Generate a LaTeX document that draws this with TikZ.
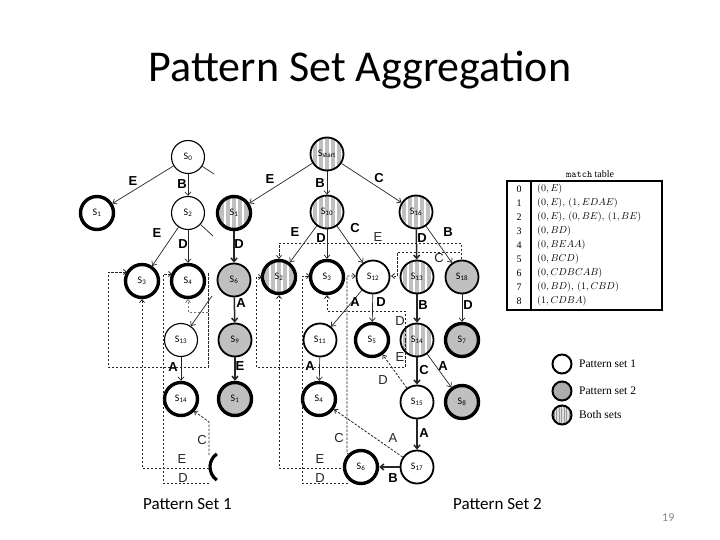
\documentclass[tikz,border=0pt]{standalone}
\usepackage{fontspec}
\setmainfont{Carlito}
\newfontfamily\lab{Liberation Sans}
\newfontfamily\tms{Liberation Serif}
\usetikzlibrary{arrows.meta}
\definecolor{ngray}{RGB}{192,192,192}
\definecolor{pgnum}{RGB}{137,137,137}
\begin{document}
\begin{tikzpicture}[x=1pt,y=-1pt,
 nd/.style={circle, draw, inner sep=0pt, minimum size=33pt, font=\fontsize{10}{12}\selectfont},
 thn/.style={line width=1.1pt},
 mdm/.style={line width=1.8pt},
 thk/.style={line width=3.4pt},
 wh/.style={fill=white},
 gy/.style={fill=ngray},
 st/.style={fill=ngray, path picture={\foreach \d in {-15,-9,-3,3,9,15} \draw[white,line width=1.4pt] ([xshift=\d pt]path picture bounding box.south) -- ([xshift=\d pt]path picture bounding box.north);}},
 lst/.style={fill=gray!25, path picture={\foreach \d in {-8,-5.5,-3,-0.5,2,4.5,7} \draw[gray!80,line width=0.5pt] ([xshift=\d pt]path picture bounding box.south) -- ([xshift=\d pt]path picture bounding box.north);}},
 ed/.style={draw=black!85, line width=0.7pt, -{Straight Barb[length=3.5pt,width=6pt]}},
 edk/.style={ed, line width=1.5pt},
 dsh/.style={draw=black!85, line width=0.8pt, dash pattern=on 2.5pt off 1.5pt},
 dar/.style={dsh, -{Straight Barb[length=3pt,width=5pt]}},
 lb/.style={font=\lab\bfseries\fontsize{13}{15}\selectfont, inner sep=0pt},
 dl/.style={font=\lab\fontsize{13}{15}\selectfont, inner sep=0pt, text=black!85},
 tb/.style={font=\fontsize{10}{12}\selectfont, inner sep=0pt, anchor=west},
 lgc/.style={circle, draw, line width=2pt, minimum size=19pt, inner sep=0pt},
 lgt/.style={anchor=west, font=\tms\fontsize{11.5}{13}\selectfont, inner sep=0pt}
]
\useasboundingbox (0,0) rectangle (720,540);
\fill[white] (0,0) rectangle (720,540);

% title and captions
\node[anchor=base, font=\fontsize{44}{50}\selectfont, inner sep=0pt] (title) at (360,82) {Pattern Set Aggregation};
\node[anchor=base west, font=\fontsize{17}{20}\selectfont, inner sep=0pt] (cap1) at (143,509) {Pattern Set 1};
\node[anchor=base west, font=\fontsize{17}{20}\selectfont, inner sep=0pt] (cap2) at (453,509) {Pattern Set 2};
\node[anchor=base west, font=\fontsize{12}{14}\selectfont, inner sep=0pt, text=pgnum] (pg) at (662,521) {19};

% ---------- left tree (pattern set 1) ----------
\node[nd,thn,wh] (a0) at (188,157) {S\textsubscript{0}};
\node[nd,thk,wh] (a1) at (97,213) {S\textsubscript{1}};
\node[nd,thn,wh] (a2) at (188,213) {S\textsubscript{2}};
\node[nd,thk,wh] (a3) at (142,281) {S\textsubscript{3}};
\node[nd,thk,wh] (a4) at (188,281) {S\textsubscript{4}};
\node[nd,thn,wh] (a13) at (181,340) {S\textsubscript{13}};
\node[nd,thk,wh] (a14) at (181,399) {S\textsubscript{14}};
\coordinate (c0) at (214,174);
\coordinate (c2) at (213,236);
\coordinate (c13) at (212,296);
\draw[ed] (a0) -- (a1);
\draw[ed] (a0) -- (a2);
\draw[ed,-] (a0) -- (c0);
\draw[ed] (a2) -- (a3);
\draw[ed] (a2) -- (a4);
\draw[ed,-] (a2) -- (c2);
\draw[ed] (c13) -- (a13);
\draw[ed] (a13) -- (a14);
\node[lb] (la1) at (133,181) {E};
\node[lb] (la2) at (182,184) {B};
\node[lb] (la3) at (157,233) {E};
\node[lb] (la4) at (183,244) {D};
\node[lb] (la5) at (173,367) {A};

% left dashed failure links
\draw[dar] (208,273) -- (208,367) -- (108,367) -- (108,272) -- (127,272);
\draw[dar,draw=black!55] (208,312) -- (188,312) -- (188,299);
\draw[dar] (209,468) -- (142,468) -- (142,299);
\draw[dar] (209,483) -- (163,483) -- (163,274) -- (172,274);
\draw[dar] (209,455) -- (209,422) -- (194,411);
\draw[line width=3.2pt] (226,467) ++(125:16) arc (125:235:16);
\node[dl] (ld1) at (202,440) {C};
\node[dl] (ld2) at (182,459) {E};
\node[dl] (ld3) at (183,478) {D};

% ---------- aggregated tree ----------
\node[nd,thk,st] (b1) at (234,213) {S\textsubscript{1}};
\node[nd,mdm,gy] (b6) at (234,280) {S\textsubscript{6}};
\node[nd,mdm,gy] (b9) at (235,340) {S\textsubscript{9}};
\node[nd,thk,gy] (bx) at (235,399) {S\textsubscript{1}};

\node[nd,mdm,st] (st) at (327,154) {S\textsubscript{start}};
\node[nd,mdm,st] (m10) at (327,212) {S\textsubscript{10}};
\node[nd,mdm,st] (m16) at (416,212) {S\textsubscript{16}};
\node[nd,thk,st] (m2) at (279,277) {S\textsubscript{2}};
\node[nd,thk,wh] (m3) at (327,277) {S\textsubscript{3}};
\node[nd,mdm,wh] (m12) at (373,277) {S\textsubscript{12}};
\node[nd,mdm,st] (m13) at (417,277) {S\textsubscript{13}};
\node[nd,mdm,gy] (m18) at (462,277) {S\textsubscript{18}};
\node[nd,mdm,wh] (m11) at (320,340) {S\textsubscript{11}};
\node[nd,thk,wh] (m5) at (372,340) {S\textsubscript{5}};
\node[nd,mdm,st] (m14) at (417,340) {S\textsubscript{14}};
\node[nd,thk,gy] (m7) at (462,340) {S\textsubscript{7}};
\node[nd,thk,wh] (m4) at (319,399) {S\textsubscript{4}};
\node[nd,mdm,wh] (m15) at (417,402) {S\textsubscript{15}};
\node[nd,thk,gy] (m8) at (462,402) {S\textsubscript{8}};
\node[nd,thk,wh] (m6) at (361,467) {S\textsubscript{6}};
\node[nd,mdm,wh] (m17) at (417,467) {S\textsubscript{17}};

\draw[edk] (b1) -- (b6);
\draw[edk] (b6) -- (b9);
\draw[edk] (b9) -- (bx);
\draw[ed] (st) -- (b1);
\draw[ed] (st) -- (m10);
\draw[ed] (st) -- (m16);
\draw[ed] (m10) -- (m2);
\draw[ed] (m10) -- (m3);
\draw[ed] (m10) -- (m12);
\draw[edk] (m16) -- (m13);
\draw[ed] (m16) -- (m18);
\draw[ed] (m12) -- (m11);
\draw[ed] (m12) -- (m5);
\draw[edk] (m13) -- (m14);
\draw[ed] (m18) -- (m7);
\draw[edk] (m14) -- (m15);
\draw[ed] (m14) -- (m8);
\draw[ed] (m11) -- (m4);
\draw[edk] (m15) -- (m17);
\draw[edk] (m17) -- (m6);

\node[lb] (lb1) at (239,244) {D};
\node[lb] (lb2) at (241,303) {A};
\node[lb] (lb3) at (240,366) {E};
\node[lb] (lm1) at (270,179) {E};
\node[lb] (lm2) at (320,183) {B};
\node[lb] (lm3) at (379,178) {C};
\node[lb] (lm4) at (295,232) {E};
\node[lb] (lm5) at (321,238) {D};
\node[lb] (lm6) at (355,228) {C};
\node[lb] (lm7) at (422,238) {D};
\node[lb] (lm8) at (448,232) {B};
\node[lb] (lm9) at (355,302) {A};
\node[lb] (lm10) at (381,302) {D};
\node[lb] (lm11) at (423,305) {B};
\node[lb] (lm12) at (468,305) {D};
\node[lb] (lm13) at (424,370) {C};
\node[lb] (lm14) at (443,366) {A};
\node[lb] (lm15) at (310,366) {A};
\node[lb] (lm16) at (424,433) {A};
\node[lb] (lm17) at (393,478) {B};

% middle dashed failure links
\draw[dar] (461,259) -- (461,243) -- (279,243) -- (279,259);
\draw[dar] (460,252) -- (397,252) -- (397,276) -- (391,276);
\draw[dar] (405,340) -- (405,311) -- (327,311) -- (327,295);
\draw[dar] (405,340) -- (405,367) -- (256,367) -- (256,277) -- (262,277);
\draw[dar] (345,468) -- (279,468) -- (279,295);
\draw[dar] (348,483) -- (302,483) -- (302,276) -- (310,276);
\draw[dar] (349,455) -- (347,453) -- (347,276) -- (356,276);
\draw[dar] (m15) -- (m5);
\draw[dar] (m17) -- (m4);
\node[dl] (dm1) at (378,237) {E};
\node[dl] (dm2) at (439,258) {C};
\node[dl] (dm3) at (400,321) {D};
\node[dl] (dm4) at (400,357) {E};
\node[dl] (dm5) at (383,380) {D};
\node[dl] (dm6) at (393,438) {A};
\node[dl] (dm7) at (339,438) {C};
\node[dl] (dm8) at (320,459) {E};
\node[dl] (dm9) at (320,478) {D};

% ---------- match table ----------
\node[font=\fontsize{10}{12}\selectfont, inner sep=0pt] (mtt) at (590,174) {\texttt{match} \tms table};
\draw[line width=1.5pt] (507,181) rectangle (662,310);
\draw[line width=1.5pt] (531,181) -- (531,310);
\foreach \n/\t [count=\i from 0] in {0/{$(0,E)$},1/{$(0,E),\,(1,EDAE)$},2/{$(0,E),\,(0,BE),\,(1,BE)$},3/{$(0,BD)$},4/{$(0,BEAA)$},5/{$(0,BCD)$},6/{$(0,CDBCAB)$},7/{$(0,BD),\,(1,CBD)$},8/{$(1,CDBA)$}}{
  \node[font=\tms\fontsize{10}{12}\selectfont, inner sep=0pt] (tn\i) at (519,{189+14*\i}) {\n};
  \node[tb] (tr\i) at (537,{189+14*\i}) {\t};
}

% ---------- legend ----------
\node[lgc,fill=white] (lg1) at (562,364) {};
\node[lgc,fill=ngray!90!black] (lg2) at (562,391) {};
\node[lgc,lst] (lg3) at (562,415) {};
\node[lgt] (lt1) at (579,364) {Pattern set 1};
\node[lgt] (lt2) at (579,391) {Pattern set 2};
\node[lgt] (lt3) at (579,415) {Both sets};
\end{tikzpicture}
\end{document}
